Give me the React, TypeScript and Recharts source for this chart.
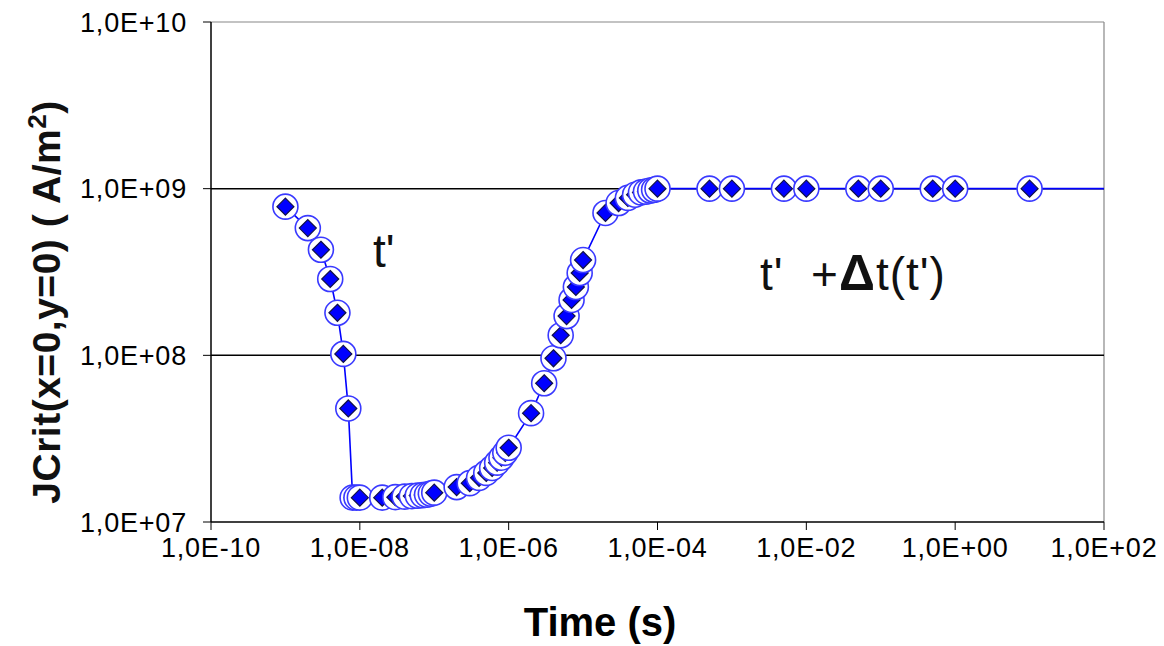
import React from "react";
import { LineChart, Line, XAxis, YAxis, ReferenceLine } from "recharts";

// time (s) and critical current density J (A/m2)
const times = [
  1e-9, 2e-9, 3e-9, 4e-9, 5e-9, 6e-9, 7e-9, 8e-9, 9e-9, 1e-8,
  2e-8, 3e-8, 4e-8, 5e-8, 6e-8, 7e-8, 8e-8, 9e-8, 1e-7,
  2e-7, 3e-7, 4e-7, 5e-7, 6e-7, 7e-7, 8e-7, 9e-7, 1e-6,
  2e-6, 3e-6, 4e-6, 5e-6, 6e-6, 7e-6, 8e-6, 9e-6, 1e-5,
  2e-5, 3e-5, 4e-5, 5e-5, 6e-5, 7e-5, 8e-5, 9e-5, 1e-4,
  5e-4, 1e-3, 5e-3, 1e-2, 5e-2, 1e-1, 5e-1, 1, 10, 100,
];
const jValues = [
  7.8e8, 5.8e8, 4.3e8, 2.87e8, 1.8e8, 1.02e8, 4.8e7, 1.4e7, 1.4e7, 1.4e7,
  1.4e7, 1.41e7, 1.42e7, 1.43e7, 1.44e7, 1.45e7, 1.46e7, 1.48e7, 1.5e7,
  1.62e7, 1.71e7, 1.84e7, 1.97e7, 2.11e7, 2.27e7, 2.43e7, 2.6e7, 2.79e7,
  4.5e7, 6.8e7, 9.6e7, 1.32e8, 1.72e8, 2.15e8, 2.57e8, 3.12e8, 3.73e8,
  7.15e8, 8.2e8, 8.8e8, 9.2e8, 9.5e8, 9.6e8, 9.75e8, 9.85e8, 1e9,
  1e9, 1e9, 1e9, 1e9, 1e9, 1e9, 1e9, 1e9, 1e9, 1e9,
];
const xTicks = [1e-10, 1e-8, 1e-6, 1e-4, 1e-2, 1, 100];
const yTicks = [1e7, 1e8, 1e9, 1e10];

const data = times.map((t, i) => ({ t, j: jValues[i] }));

const FONT = "Arial, 'Liberation Sans', sans-serif";

const fmt = (v: number) => {
  const e = Math.round(Math.log10(v));
  const sign = e < 0 ? "-" : "+";
  return `1,0E${sign}${String(Math.abs(e)).padStart(2, "0")}`;
};

const tickStyle = { fill: "#000", fontSize: 27, fontFamily: FONT, letterSpacing: 0.8 };

const renderDot = (props: any) => {
  const { cx, cy, index } = props;
  if (index === data.length - 1 || cx == null) return <g key={`d-${index}`} />;
  const d = 8.5;
  return (
    <g key={`d-${index}`}>
      <circle cx={cx} cy={cy} r={12.5} fill="#fff" stroke="#3a3aff" strokeWidth={1.6} />
      <path
        d={`M${cx},${cy - d} L${cx + d},${cy} L${cx},${cy + d} L${cx - d},${cy} Z`}
        fill="#0000ff"
        stroke="#10104a"
        strokeWidth={1.2}
      />
    </g>
  );
};

export default function App() {
  return (
    <div
      style={{
        position: "absolute",
        left: 0,
        top: 0,
        width: 1164,
        height: 646,
        background: "#fff",
        fontFamily: FONT,
      }}
    >
      <LineChart
        width={1164}
        height={646}
        data={data}
        margin={{ top: 22, right: 60, bottom: 0, left: 0 }}
      >
        <XAxis
          dataKey="t"
          type="number"
          scale="log"
          domain={[1e-10, 100]}
          ticks={xTicks}
          allowDataOverflow
          tickFormatter={fmt}
          height={124}
          tickSize={8}
          tickMargin={8}
          tick={tickStyle}
          tickLine={{ stroke: "#000" }}
          axisLine={{ stroke: "#000", strokeWidth: 1.5 }}
        />
        <YAxis
          dataKey="j"
          type="number"
          scale="log"
          domain={[1e7, 1e10]}
          ticks={yTicks}
          allowDataOverflow
          tickFormatter={fmt}
          width={211}
          tickSize={8}
          tickMargin={16}
          tick={tickStyle}
          tickLine={{ stroke: "#000" }}
          axisLine={{ stroke: "#000", strokeWidth: 1.5 }}
        />
        <ReferenceLine y={1e10} stroke="#888" strokeWidth={1.2} />
        <ReferenceLine x={100} stroke="#888" strokeWidth={1.2} />
        <ReferenceLine y={1e9} stroke="#000" strokeWidth={1.5} />
        <ReferenceLine y={1e8} stroke="#000" strokeWidth={1.5} />
        <Line
          dataKey="j"
          type="linear"
          stroke="#0000ff"
          strokeWidth={1.6}
          dot={renderDot}
          isAnimationActive={false}
        />
      </LineChart>

      {/* axis titles */}
      <div
        style={{
          position: "absolute",
          left: 45,
          top: 302,
          transform: "translate(-50%, -50%) rotate(-90deg)",
          whiteSpace: "nowrap",
          fontWeight: "bold",
          fontSize: 39,
          letterSpacing: 0.5,
          color: "#111",
        }}
      >
        JCrit(x=0,y=0) ( A/m<sup style={{ fontSize: 26 }}>2</sup>)
      </div>
      <div
        style={{
          position: "absolute",
          left: 600,
          top: 622,
          transform: "translate(-50%, -50%)",
          whiteSpace: "nowrap",
          fontWeight: "bold",
          fontSize: 40,
          color: "#000",
        }}
      >
        Time (s)
      </div>

      {/* annotations */}
      <div
        style={{
          position: "absolute",
          left: 373,
          top: 224,
          fontSize: 46,
          color: "#111",
          whiteSpace: "nowrap",
        }}
      >
        t'
      </div>
      <div
        style={{
          position: "absolute",
          left: 760,
          top: 244,
          fontSize: 46,
          letterSpacing: 1,
          color: "#111",
          whiteSpace: "nowrap",
        }}
      >
        t'&nbsp; +<b style={{ fontSize: 50 }}>Δ</b>t(t')
      </div>
    </div>
  );
}
